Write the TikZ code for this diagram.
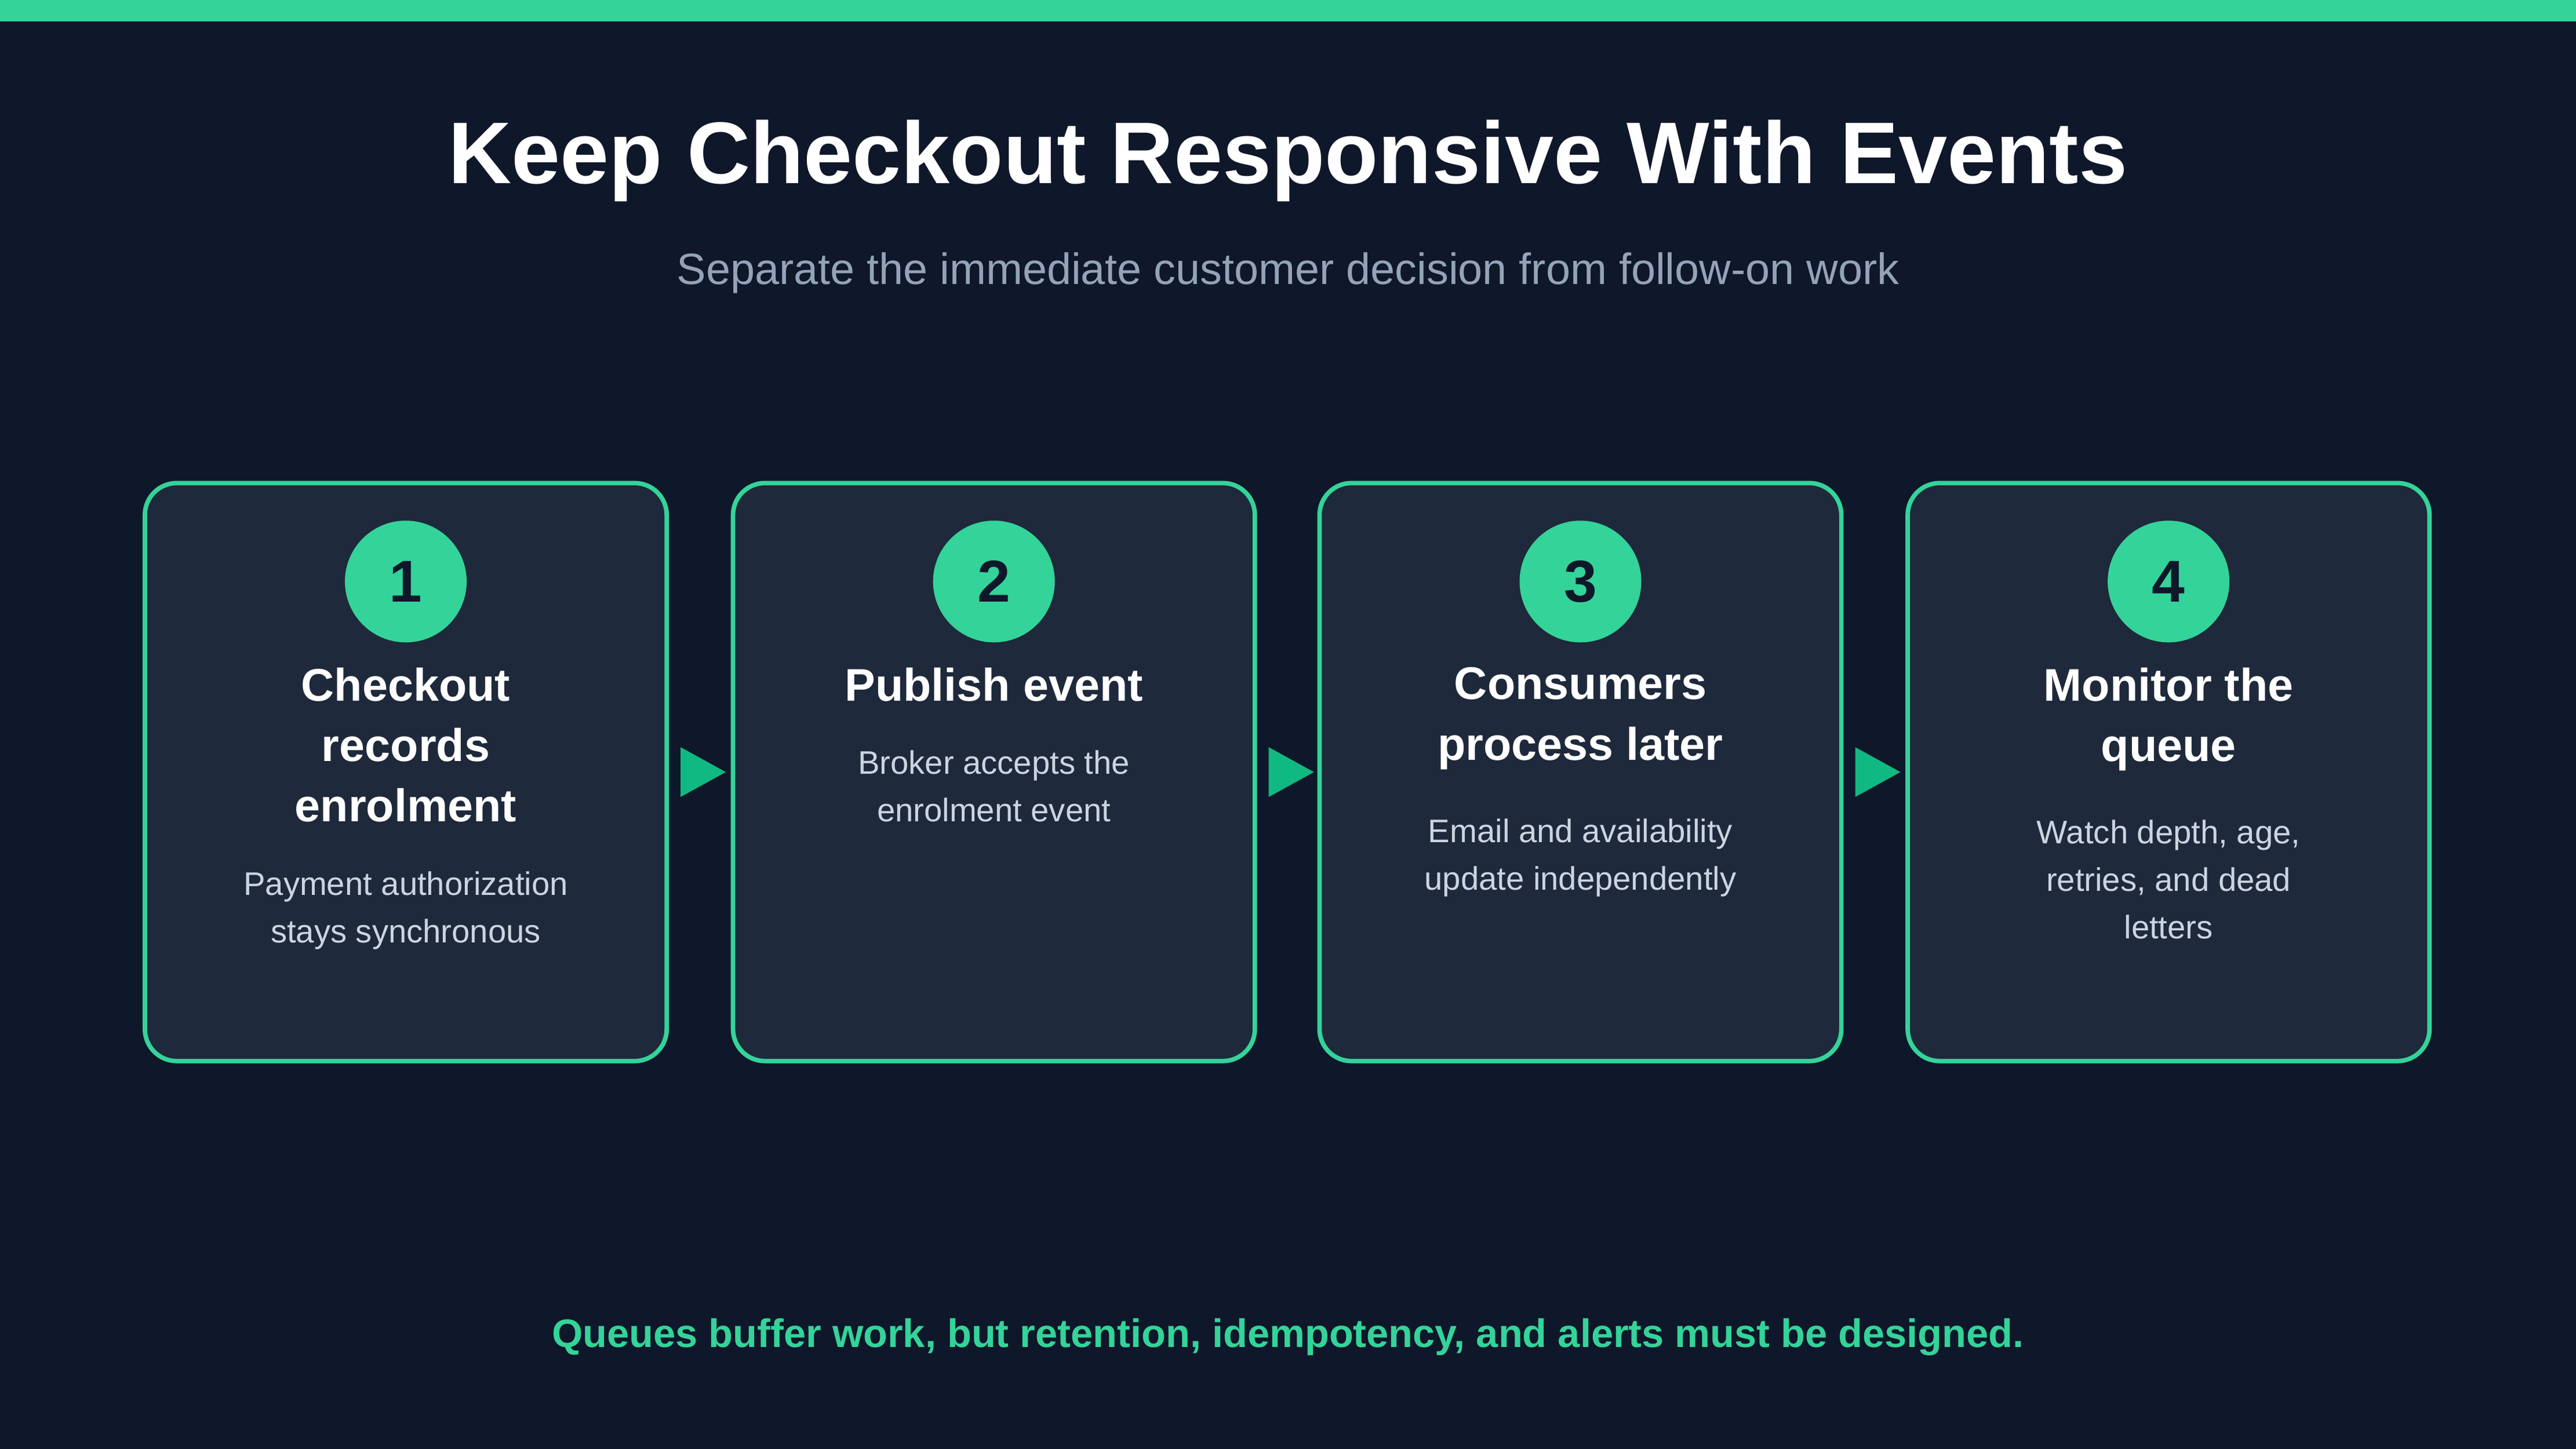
\documentclass[tikz,border=0pt]{standalone}
\usepackage{fontspec}
\setmainfont{Liberation Sans}
\usetikzlibrary{positioning}
\definecolor{bgdark}{HTML}{0F172A}
\definecolor{boxfill}{HTML}{1E293B}
\definecolor{mint}{HTML}{34D399}
\definecolor{arrowgreen}{HTML}{10B981}
\definecolor{subgray}{HTML}{94A3B8}
\definecolor{bodygray}{HTML}{CBD5E1}
\begin{document}
\begin{tikzpicture}[x=0.02834cm,y=-0.02834cm,
	stagebox/.style={draw=mint,line width=2.2pt,fill=boxfill,rounded corners=0.55cm,minimum width=9.0cm,minimum height=9.97cm},
	badge/.style={circle,fill=mint,minimum size=2.1cm,text=bgdark,font=\fontsize{29}{32}\selectfont\bfseries},
	heading/.style={text=white,align=center,font=\fontsize{22.5}{29.7}\selectfont\bfseries},
	detail/.style={text=bodygray,align=center,font=\fontsize{16}{23.3}\selectfont},
	flow/.style={fill=arrowgreen}]
		\fill[bgdark] (0,0) rectangle (1568,882);
		\fill[mint] (0,0) rectangle (1568,13);
		\useasboundingbox (0,0) rectangle (1568,882);
		
		\node[text=white,font=\fontsize{43}{48}\selectfont\bfseries] (title) at (784,98) {Keep Checkout Responsive With Events};
		\node[text=subgray,font=\fontsize{21.5}{26}\selectfont] (subtitle) at (784,166) {Separate the immediate customer decision from follow-on work};
		
		\node[stagebox] (S1) at (247,470) {};
		\node[stagebox] (S2) at (605,470) {};
		\node[stagebox] (S3) at (962,470) {};
		\node[stagebox] (S4) at (1320,470) {};
		
		\node[badge] (B1) at (247,354) {1};
		\node[badge] (B2) at (605,354) {2};
		\node[badge] (B3) at (962,354) {3};
		\node[badge] (B4) at (1320,354) {4};
		
		\node[heading,anchor=north] (H1) at (247,402) {Checkout\\records\\enrolment};
		\node[heading,anchor=north] (H2) at (605,402) {Publish event};
		\node[heading,anchor=north] (H3) at (962,402) {Consumers\\process later};
		\node[heading,anchor=north] (H4) at (1320,402) {Monitor the\\queue};
		
		\node[detail,below=0.6cm of H1] (D1) {Payment authorization\\stays synchronous};
		\node[detail,below=0.6cm of H2] (D2) {Broker accepts the\\enrolment event};
		\node[detail,below=0.6cm of H3] (D3) {Email and availability\\update independently};
		\node[detail,below=0.6cm of H4] (D4) {Watch depth, age,\\retries, and dead\\letters};
		
		\foreach \a in {S1,S2,S3}
			\fill[flow] ([xshift=0.2cm,yshift=0.43cm]\a.east) -- ++(0,-0.86cm) -- ++(0.78cm,0.43cm) -- cycle;
		
		\node[text=mint,font=\fontsize{19.5}{24}\selectfont\bfseries] (note) at (784,814) {Queues buffer work, but retention, idempotency, and alerts must be designed.};
	\end{tikzpicture}
\end{document}
